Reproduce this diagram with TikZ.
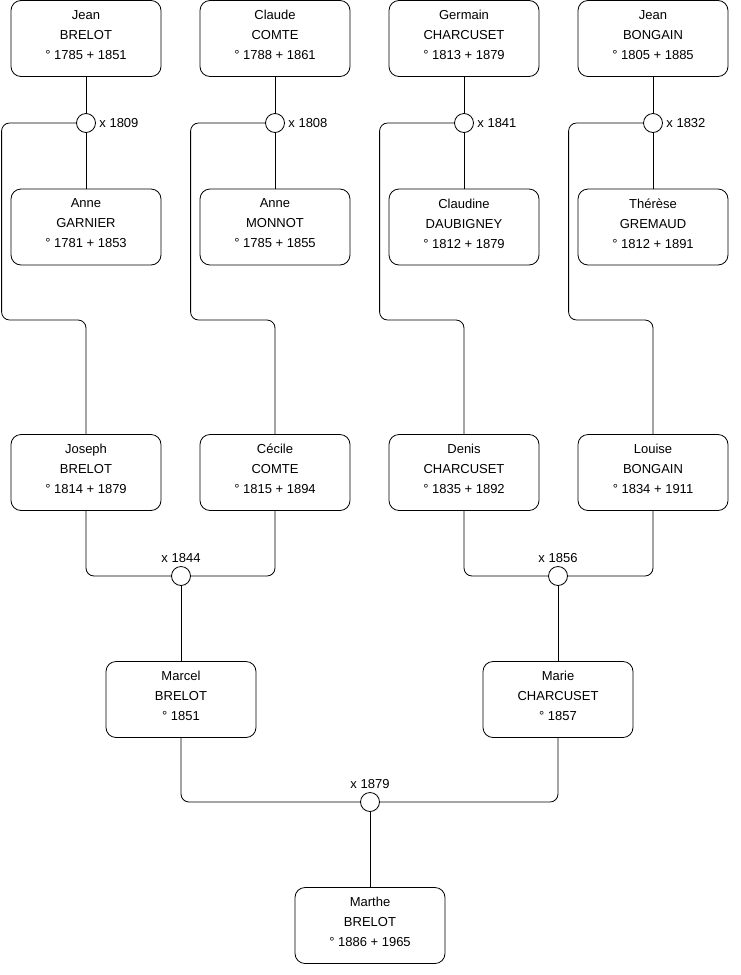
\documentclass[tikz,border=0pt]{standalone}
\usepackage{fontspec}
\setmainfont{Liberation Sans}
\usetikzlibrary{positioning}

\tikzset{
  person/.style={draw, rounded corners=10pt, minimum width=150pt, minimum height=76pt,
    align=center, line width=0.8pt, text depth=7pt, font=\fontsize{13}{20}\selectfont},
  union/.style={draw, circle, fill=white, minimum size=19pt, inner sep=0pt, line width=0.8pt},
  link/.style={line width=0.8pt, rounded corners=8pt},
  every label/.style={font=\fontsize{13}{15}\selectfont}
}

\begin{document}
\begin{tikzpicture}[x=1pt,y=-1pt]
    \useasboundingbox (0,0) rectangle (740,975);

    \node[person] (jeanB) at (86,38.5) {Jean\\BRELOT\\° 1785 + 1851};
    \node[person] (claudeC) at (275,38.5) {Claude\\COMTE\\° 1788 + 1861};
    \node[person] (germainC) at (464,38.5) {Germain\\CHARCUSET\\° 1813 + 1879};
    \node[person] (jeanBo) at (653,38.5) {Jean\\BONGAIN\\° 1805 + 1885};

    \node[union, label=right:{x 1809}] (u1809) at (86,123) {};
    \node[union, label=right:{x 1808}] (u1808) at (275,123) {};
    \node[union, label=right:{x 1841}] (u1841) at (464,123) {};
    \node[union, label=right:{x 1832}] (u1832) at (653,123) {};

    \node[person] (anneG) at (86,227) {Anne\\GARNIER\\° 1781 + 1853};
    \node[person] (anneM) at (275,227) {Anne\\MONNOT\\° 1785 + 1855};
    \node[person] (claudineD) at (464,227) {Claudine\\DAUBIGNEY\\° 1812 + 1879};
    \node[person] (thereseG) at (653,227) {Thérèse\\GREMAUD\\° 1812 + 1891};

    \node[person] (josephB) at (86,472.5) {Joseph\\BRELOT\\° 1814 + 1879};
    \node[person] (cecileC) at (275,472.5) {Cécile\\COMTE\\° 1815 + 1894};
    \node[person] (denisC) at (464,472.5) {Denis\\CHARCUSET\\° 1835 + 1892};
    \node[person] (louiseB) at (653,472.5) {Louise\\BONGAIN\\° 1834 + 1911};

    \node[union, label=above:{x 1844}] (u1844) at (181,576) {};
    \node[union, label=above:{x 1856}] (u1856) at (558,576) {};

    \node[person] (marcelB) at (181,699.5) {Marcel\\BRELOT\\° 1851};
    \node[person] (marieC) at (558,699.5) {Marie\\CHARCUSET\\° 1857};

    \node[union, label=above:{x 1879}] (u1879) at (370,802) {};

    \node[person] (martheB) at (370,925.5) {Marthe\\BRELOT\\° 1886 + 1965};

    % couples
    \draw[link] (jeanB) -- (u1809) -- (anneG);
    \draw[link] (claudeC) -- (u1808) -- (anneM);
    \draw[link] (germainC) -- (u1841) -- (claudineD);
    \draw[link] (jeanBo) -- (u1832) -- (thereseG);

    % children
    \draw[link] (u1809.west) -| ++(-74.5,197) -| (josephB.north);
    \draw[link] (u1808.west) -| ++(-74.5,197) -| (cecileC.north);
    \draw[link] (u1841.west) -| ++(-74.5,197) -| (denisC.north);
    \draw[link] (u1832.west) -| ++(-74.5,197) -| (louiseB.north);

    \draw[link] (josephB.south) |- (u1844.west);
    \draw[link] (cecileC.south) |- (u1844.east);
    \draw[link] (u1844) -- (marcelB);
    \draw[link] (denisC.south) |- (u1856.west);
    \draw[link] (louiseB.south) |- (u1856.east);
    \draw[link] (u1856) -- (marieC);

    \draw[link] (marcelB.south) |- (u1879.west);
    \draw[link] (marieC.south) |- (u1879.east);
    \draw[link] (u1879) -- (martheB);
\end{tikzpicture}
\end{document}
